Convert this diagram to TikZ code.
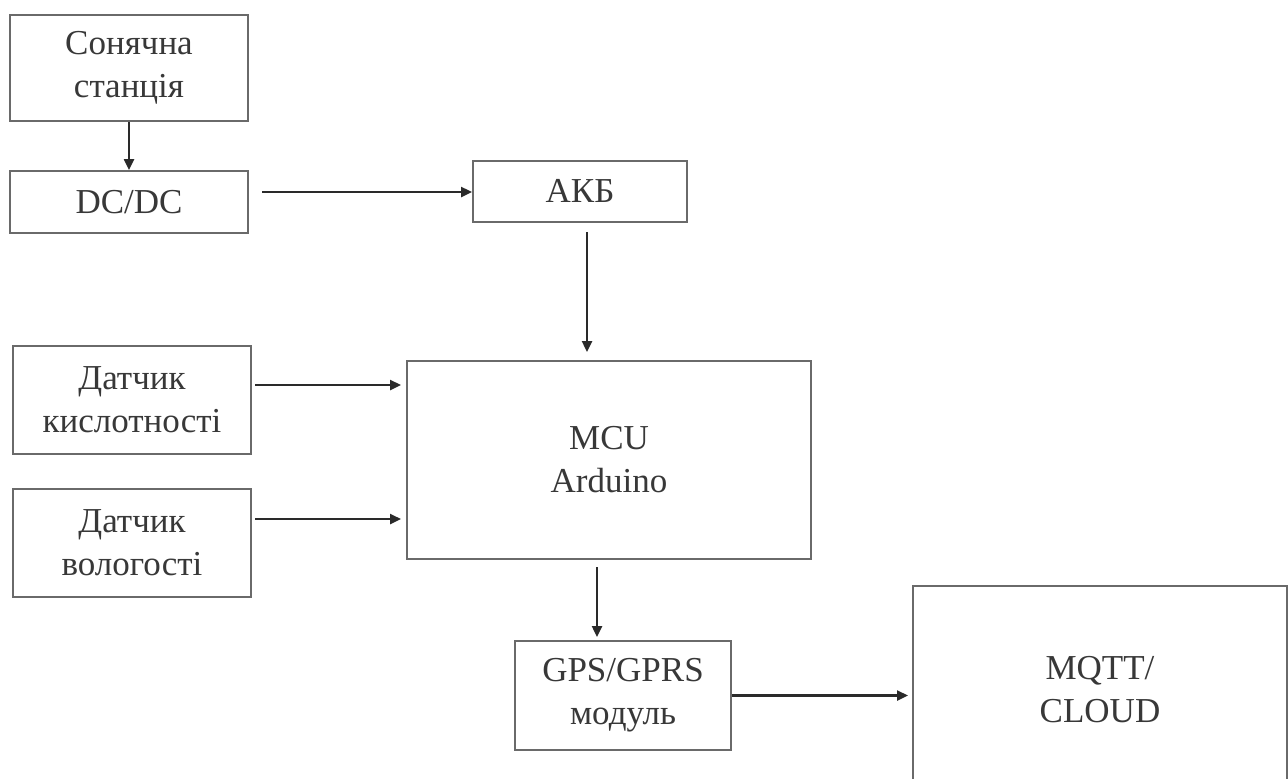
\documentclass[tikz,border=0pt]{standalone}
\usepackage{fontspec}
\setmainfont{Liberation Serif}
\usetikzlibrary{arrows.meta,calc}
\definecolor{boxline}{HTML}{6A6A6A}
\definecolor{arrline}{HTML}{2A2A2A}
\definecolor{txt}{HTML}{383838}
\begin{document}
\begin{tikzpicture}[x=0.5pt,y=-0.5pt,
  blk/.style={draw=boxline, line width=1pt, rectangle, inner sep=0pt,
    align=center, text=txt, font=\fontsize{17.5pt}{21.5pt}\selectfont},
  arr/.style={draw=arrline, line width=1.2pt,
    -{Triangle[length=5.5pt,width=5pt]}}]
\useasboundingbox (0,0) rectangle (1288,778);
\clip (0,0) rectangle (1288,778);
\fill[white] (0,0) rectangle (1288,778);

% blocks
\node[blk, minimum width=238*0.5pt, minimum height=106*0.5pt] (sun) at (129,68) {Сонячна\\станція};
\node[blk, minimum width=238*0.5pt, minimum height=62*0.5pt] (dcdc) at (129,202) {DC/DC};
\node[blk, minimum width=214*0.5pt, minimum height=61*0.5pt] (akb) at (580,191) {АКБ};
\node[blk, minimum width=238*0.5pt, minimum height=108*0.5pt] (ph) at (132,400) {Датчик\\кислотності};
\node[blk, minimum width=238*0.5pt, minimum height=108*0.5pt] (hum) at (132,543) {Датчик\\вологості};
\node[blk, minimum width=404*0.5pt, minimum height=198*0.5pt] (mcu) at (609,460) {MCU\\Arduino};
\node[blk, minimum width=216*0.5pt, minimum height=109*0.5pt] (gps) at (623,695.5) {GPS/GPRS\\модуль};
\node[blk, minimum width=374*0.5pt, minimum height=208*0.5pt] (mqtt) at (1100,690) {MQTT/\\CLOUD};

% connector start points
\coordinate (dcout) at (262,192);
\coordinate (akbout) at (587,232);
\coordinate (phout) at (255,385);
\coordinate (humout) at (255,519);
\coordinate (mcuout) at (597,567);

% connectors
\draw[arr] (sun) -- (dcdc);
\draw[arr] (dcout) -- (dcout -| akb.west);
\draw[arr, shorten >=4pt] (akbout) -- (akbout |- mcu.north);
\draw[arr, shorten >=2.5pt] (phout) -- (phout -| mcu.west);
\draw[arr, shorten >=2.5pt] (humout) -- (humout -| mcu.west);
\draw[arr, shorten >=1.5pt] (mcuout) -- (mcuout |- gps.north);
\draw[arr, shorten >=2pt] (gps.east) -- (gps.east -| mqtt.west);
\end{tikzpicture}
\end{document}
